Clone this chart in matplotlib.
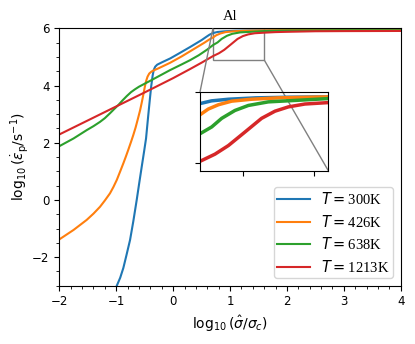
import matplotlib
matplotlib.use('Agg')
import matplotlib.pyplot as plt
from matplotlib.ticker import MultipleLocator
from mpl_toolkits.axes_grid1.inset_locator import mark_inset


temps = ['300', '426', '638', '1213']

x_300 = [-0.99, -0.93, -0.875, -0.82, -0.757, -0.70, -0.64, -0.595, -0.552, -0.51, -0.476, -0.44, -0.41,
         -0.385, -0.36, -0.34, -0.315, -0.28, -0.2, -0.05, 0.10, 0.30, 0.50, 0.58, 0.64, 0.70, 0.78, 0.90,
         1.09, 1.32, 1.6, 2.0, 3.0, 4.0]
y_300 = [-3.0, -2.72, -2.38, -1.93, -1.40, -0.75, 0.0, 0.6, 1.16, 1.7, 2.15, 2.9, 3.5,
         3.98, 4.35, 4.55, 4.66, 4.73, 4.81, 4.95, 5.12, 5.35, 5.59, 5.70, 5.78, 5.836, 5.874, 5.897,
         5.916, 5.925, 5.93, 5.94, 5.945, 5.945]

x_426 = [-2.0, -1.75, -1.52, -1.4, -1.285, -1.2, -1.11, -1.05, -0.99, -0.93, -0.875, -0.83, -0.787, -0.74,
         -0.70, -0.66, -0.62, -0.58, -0.55, -0.524, -0.50, -0.476, -0.45, -0.42, -0.38, -0.33, -0.25, -0.05,
         0.15, 0.35, 0.55, 0.65, 0.70, 0.758, 0.829, 0.922, 1.062, 1.249, 1.6, 2.0, 3.0, 4.0]
y_426 = [-1.38, -1.05, -0.70, -0.48, -0.24, -0.02, 0.23, 0.45, 0.70, 1.0, 1.28, 1.52, 1.76, 2.03,
         2.27, 2.53, 2.83, 3.14, 3.42, 3.68, 3.93, 4.15, 4.31, 4.42, 4.49, 4.54, 4.61, 4.80,
         5.02, 5.26, 5.50, 5.63, 5.68, 5.76, 5.82, 5.87, 5.897, 5.916, 5.93, 5.94, 5.945, 5.945]

x_638 = [-2.0, -1.75, -1.52, -1.4, -1.285, -1.2, -1.11, -1.04, -0.963, -0.89, -0.816, -0.74, -0.67, -0.6,
         -0.524, -0.4, -0.288, -0.054, 0.15, 0.30, 0.45, 0.6, 0.70, 0.782, 0.852, 0.945, 1.039, 1.179,
         1.366, 1.6, 2.0, 3.0, 4.0]
y_638 = [1.88, 2.15, 2.44, 2.58, 2.73, 2.86, 3.03, 3.17, 3.32, 3.48, 3.63, 3.77, 3.87, 3.96,
         4.04, 4.17, 4.29, 4.54, 4.74, 4.89, 5.06, 5.26, 5.415, 5.51, 5.63, 5.74, 5.81, 5.86,
         5.88, 5.906, 5.925, 5.935, 5.935]

x_1213 = [-2.0, -1.5, -1.0, -0.5, 0.0, 0.3, 0.5, 0.7, 0.805, 0.899, 1.016, 1.132, 1.226, 1.32, 1.436,
          1.6, 1.8, 2.0, 2.5, 3.0, 4.0]
y_1213 = [2.29, 2.78, 3.27, 3.76, 4.26, 4.58, 4.80, 5.03, 5.13, 5.25, 5.44, 5.63, 5.73, 5.79, 5.83,
          5.85, 5.87, 5.88, 5.9, 5.905, 5.91]

curves = [(x_300, y_300), (x_426, y_426), (x_638, y_638), (x_1213, y_1213)]
colors = ['tab:blue', 'tab:orange', 'tab:green', 'tab:red']


fig = plt.figure(figsize=(4.15, 3.44), dpi=100)
ax = fig.add_axes([0.143, 0.1695, 0.8225, 0.748])

for (xs, ys), t, c in zip(curves, temps, colors):
    ax.plot(xs, ys, color=c, lw=1.5, label=r'$T=$' + f'{t}K')

ax.set_xlim(-2, 4)
ax.set_ylim(-3, 6)
ax.yaxis.set_major_locator(MultipleLocator(2))
ax.xaxis.set_minor_locator(MultipleLocator(0.2))
ax.yaxis.set_minor_locator(MultipleLocator(0.5))
ax.tick_params(axis='both', labelsize=8.5)
ax.set_xlabel(r'$\log_{10}(\hat{\sigma}/\sigma_c)$', fontsize=10)
ax.set_ylabel(r'$\log_{10}(\dot{\varepsilon}_\mathrm{p}/\mathrm{s}^{-1})$', fontsize=10, labelpad=1)
ax.set_title('Al', family='Liberation Serif', fontsize=10.5)
ax.legend(loc='lower right', prop={'family': 'Liberation Serif', 'size': 10.5},
          handlelength=2.2, borderpad=0.25, labelspacing=0.45)

# zoomed view of the plateau
axins = fig.add_axes([0.482, 0.504, 0.309, 0.229])
axins.set_facecolor('none')
for (xs, ys), c in zip(curves, colors):
    axins.plot(xs, ys, color=c, lw=2.5)
axins.set_xlim(0.7, 1.6)
axins.set_ylim(4.9, 6.0)
axins.set_xticks([1.0, 1.5])
axins.set_yticks([5, 6])
axins.set_xticklabels([])
axins.set_yticklabels([])
mark_inset(ax, axins, loc1=2, loc2=4, fc='none', ec='0.5')

fig.savefig('out.png', dpi=100)
